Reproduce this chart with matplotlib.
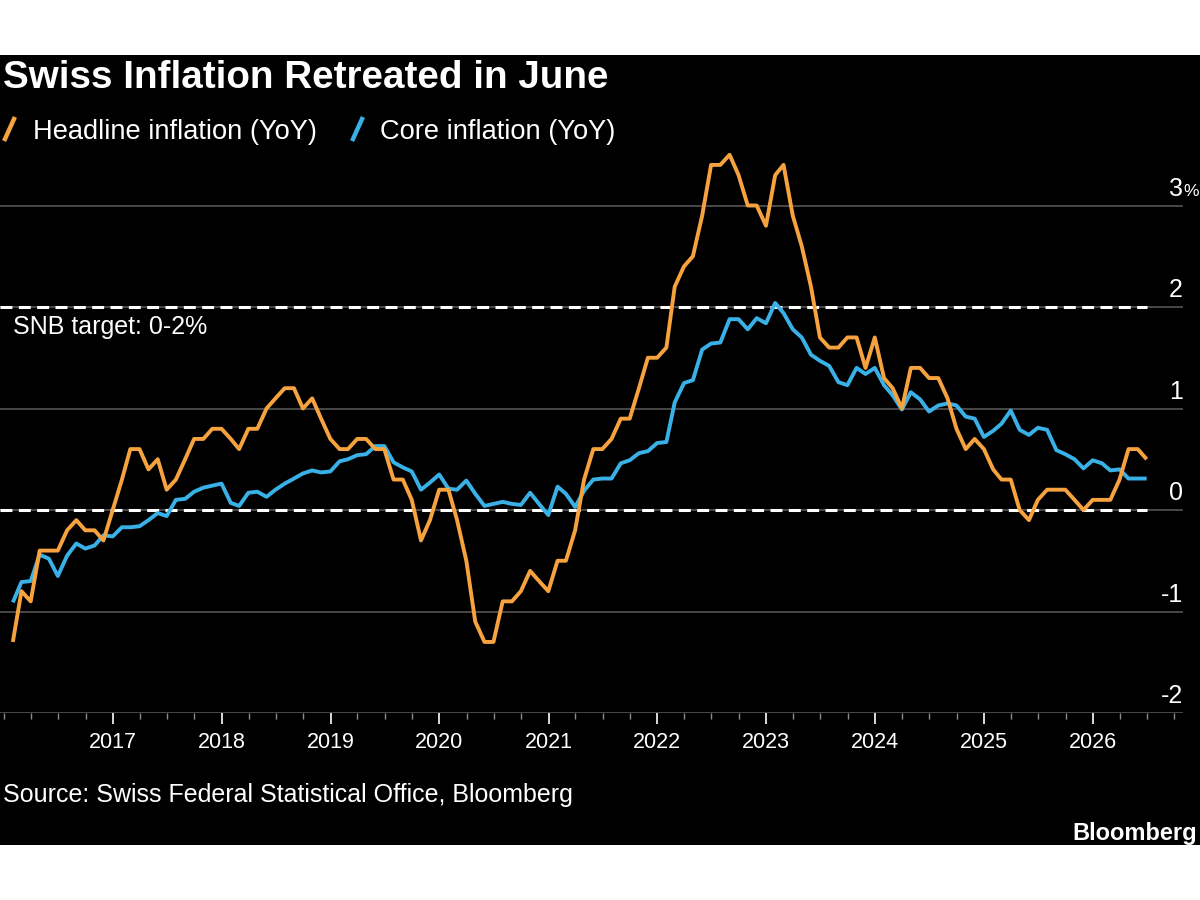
import matplotlib
matplotlib.use('Agg')
import matplotlib.pyplot as plt
import matplotlib.dates as mdates
from matplotlib.lines import Line2D
from matplotlib.patches import Rectangle
from matplotlib.transforms import blended_transform_factory, offset_copy
import pandas as pd

plt.rcParams['font.family'] = ['Liberation Sans', 'DejaVu Sans']
plt.rcParams['lines.scale_dashes'] = False

# monthly data, Jan 2016 - Jun 2026 (plotted at month end)
months = pd.date_range('2016-01-31', periods=126, freq='ME')

headline = [
    -1.3, -0.8, -0.9, -0.4, -0.4, -0.4, -0.2, -0.1, -0.2, -0.2, -0.3, 0.0,   # 2016
    0.3, 0.6, 0.6, 0.4, 0.5, 0.2, 0.3, 0.5, 0.7, 0.7, 0.8, 0.8,             # 2017
    0.7, 0.6, 0.8, 0.8, 1.0, 1.1, 1.2, 1.2, 1.0, 1.1, 0.9, 0.7,             # 2018
    0.6, 0.6, 0.7, 0.7, 0.6, 0.6, 0.3, 0.3, 0.1, -0.3, -0.1, 0.2,           # 2019
    0.2, -0.1, -0.5, -1.1, -1.3, -1.3, -0.9, -0.9, -0.8, -0.6, -0.7, -0.8,  # 2020
    -0.5, -0.5, -0.2, 0.3, 0.6, 0.6, 0.7, 0.9, 0.9, 1.2, 1.5, 1.5,          # 2021
    1.6, 2.2, 2.4, 2.5, 2.9, 3.4, 3.4, 3.5, 3.3, 3.0, 3.0, 2.8,             # 2022
    3.3, 3.4, 2.9, 2.6, 2.2, 1.7, 1.6, 1.6, 1.7, 1.7, 1.4, 1.7,             # 2023
    1.3, 1.2, 1.0, 1.4, 1.4, 1.3, 1.3, 1.1, 0.8, 0.6, 0.7, 0.6,             # 2024
    0.4, 0.3, 0.3, 0.0, -0.1, 0.1, 0.2, 0.2, 0.2, 0.1, 0.0, 0.1,            # 2025
    0.1, 0.1, 0.3, 0.6, 0.6, 0.5,                                           # 2026
]

core = [
    -0.91, -0.71, -0.70, -0.44, -0.48, -0.65, -0.45, -0.33, -0.38, -0.35, -0.25, -0.26,
    -0.17, -0.17, -0.16, -0.10, -0.03, -0.06, 0.10, 0.11, 0.18, 0.22, 0.24, 0.26,
    0.07, 0.04, 0.17, 0.18, 0.13, 0.20, 0.26, 0.31, 0.36, 0.39, 0.37, 0.38,
    0.48, 0.50, 0.54, 0.55, 0.63, 0.63, 0.47, 0.42, 0.38, 0.20, 0.27, 0.35,
    0.21, 0.20, 0.29, 0.16, 0.04, 0.06, 0.08, 0.06, 0.05, 0.17, 0.06, -0.05,
    0.23, 0.16, 0.03, 0.19, 0.30, 0.31, 0.31, 0.46, 0.49, 0.56, 0.58, 0.66,
    0.67, 1.06, 1.25, 1.28, 1.58, 1.64, 1.65, 1.88, 1.88, 1.78, 1.89, 1.84,
    2.04, 1.94, 1.78, 1.70, 1.53, 1.47, 1.42, 1.26, 1.23, 1.40, 1.34, 1.40,
    1.23, 1.13, 0.99, 1.16, 1.09, 0.97, 1.03, 1.05, 1.03, 0.92, 0.90, 0.72,
    0.78, 0.85, 0.98, 0.79, 0.74, 0.81, 0.79, 0.59, 0.55, 0.50, 0.41, 0.49,
    0.46, 0.39, 0.40, 0.31, 0.31, 0.31,
]

y_ticks = [-2, -1, 0, 1, 2, 3]
y_labels = ['-2', '-1', '0', '1', '2', '3']
year_ticks = list(range(2017, 2027))
target_band = [0, 2]

title = 'Swiss Inflation Retreated in June'
series_names = ['Headline inflation (YoY)', 'Core inflation (YoY)']
target_label = 'SNB target: 0-2%'
source = 'Source: Swiss Federal Statistical Office, Bloomberg'

ORANGE = '#F6A33F'
BLUE = '#39B1E7'
GRID = '#5c5c5c'

W, H = 1200, 900
fig = plt.figure(figsize=(12, 9), dpi=100)
fig.patch.set_facecolor('white')


def fx(px):
    return px / W


def fy(py):
    return 1 - py / H


# black panel
fig.add_artist(Rectangle((0, fy(845)), 1, fy(55) - fy(845),
                         transform=fig.transFigure, facecolor='black',
                         edgecolor='none', zorder=0))

ax = fig.add_axes([0, fy(713), fx(1183), fy(150) - fy(713)])
ax.set_facecolor('black')
for s in ax.spines.values():
    s.set_visible(False)

# x scale: 2017-01-01 sits at pixel 113, ~108.9 px per year
x0 = mdates.date2num(pd.Timestamp('2017-01-01'))
ppd = 108.9 / 365.25
xlim = (x0 - 113 / ppd, x0 + (1183 - 113) / ppd)
ax.set_xlim(xlim)
ax.set_ylim(-2, -2 + (713 - 150) / 101.5)

for v in y_ticks:
    ax.axhline(v, color=GRID, lw=1.1, zorder=1)

ax.hlines(target_band, xlim[0], mdates.date2num(months[-1]), colors='white',
          lw=2.2, linestyles=[(0, (8.6, 4.6))], zorder=2)

ax.plot(months, core, color=BLUE, lw=2.8, zorder=3, solid_capstyle='butt')
ax.plot(months, headline, color=ORANGE, lw=2.8, zorder=4, solid_capstyle='butt')

# x ticks
ax.set_xticks([pd.Timestamp(f'{y}-01-01') for y in year_ticks])
ax.set_xticklabels([str(y) for y in year_ticks])
ax.xaxis.set_minor_locator(mdates.MonthLocator(bymonth=[1, 4, 7, 10]))
ax.tick_params(axis='x', which='major', length=8, width=1.2, color='white',
               labelcolor='white', labelsize=15.5, pad=6)
ax.tick_params(axis='x', which='minor', length=4.5, width=1, color='#8a8a8a')
ax.tick_params(axis='y', left=False, labelleft=False)

# y labels above the gridlines, right side
trans = offset_copy(blended_transform_factory(ax.transAxes, ax.transData),
                    fig=fig, x=0, y=10, units='dots')
for v, lab in zip(y_ticks, y_labels):
    ax.text(1.0, v, lab, transform=trans, ha='right', va='baseline',
            color='white', size=18, clip_on=False)
ax.text(1.0, y_ticks[-1], '%', transform=trans, ha='left', va='baseline',
        color='white', size=12.5, clip_on=False)

ax.text(0, 2, target_label, transform=offset_copy(
    blended_transform_factory(ax.transAxes, ax.transData), fig=fig, x=13, y=-27, units='dots'),
    color='white', size=18, va='baseline')

# title + legend
fig.text(fx(3), fy(88), title, color='white', size=27.8, weight='bold', va='baseline')
fig.add_artist(Line2D([fx(5), fx(14)], [fy(139), fy(119)], color=ORANGE, lw=3.2,
                      transform=fig.transFigure))
fig.text(fx(33), fy(139), series_names[0], color='white', size=19.6, va='baseline')
fig.add_artist(Line2D([fx(353), fx(362)], [fy(139), fy(119)], color=BLUE, lw=3.2,
                      transform=fig.transFigure))
fig.text(fx(380), fy(139), series_names[1], color='white', size=19.6, va='baseline')

fig.text(fx(3), fy(802), source, color='white', size=18, va='baseline')
fig.text(fx(1197), fy(840), 'Bloomberg', color='white', size=17, weight='bold',
         ha='right', va='baseline')

fig.savefig('out.png', dpi=100, facecolor='white')
